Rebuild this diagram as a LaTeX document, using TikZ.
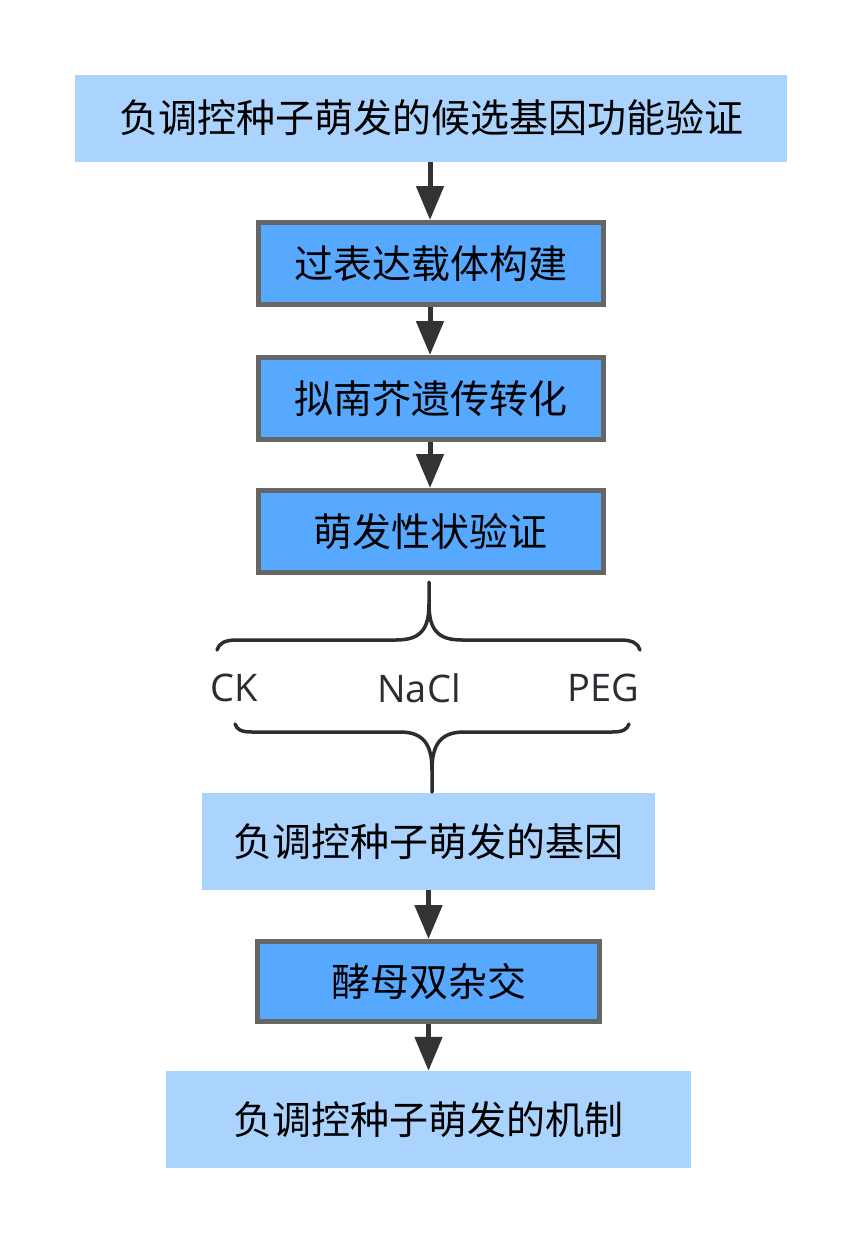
\documentclass[tikz,border=0pt]{standalone}
\usepackage{fontspec}
\setmainfont{Noto Sans CJK SC}
\newfontfamily\latinfont{Open Sans}
\usetikzlibrary{arrows.meta}
\definecolor{lightbox}{HTML}{AAD4FD}
\definecolor{darkbox}{HTML}{57A9FF}
\definecolor{boxborder}{HTML}{666666}
\definecolor{arrowcol}{HTML}{333333}
\definecolor{bracecol}{HTML}{2A2E33}
\tikzset{
  lightnode/.style={fill=lightbox, draw=none, inner sep=0pt, font=\fontsize{39}{42}\selectfont, text=black},
  darknode/.style={fill=darkbox, draw=boxborder, line width=5pt, inner sep=0pt, minimum width=345pt, minimum height=82pt, font=\fontsize{39}{42}\selectfont, text=black},
  flow/.style={draw=arrowcol, line width=5pt, -{Triangle[width=27pt,length=34pt]}},
  bracestyle/.style={draw=bracecol, line width=3.5pt, line cap=round, line join=round},
  lbl/.style={font=\latinfont\fontsize{38}{40}\selectfont, text=bracecol, inner sep=0pt}
}
\begin{document}
\begin{tikzpicture}[x=1pt,y=-1pt]
\useasboundingbox (0,0) rectangle (863,1245);
\fill[white] (0,0) rectangle (863,1245);

\node[lightnode, minimum width=712pt, minimum height=87pt] (n1) at (431,118) {负调控种子萌发的候选基因功能验证};
\node[darknode] (n2) at (430.5,263.5) {过表达载体构建};
\node[darknode] (n3) at (430.5,398.5) {拟南芥遗传转化};
\node[darknode] (n4) at (430.5,531.5) {萌发性状验证};
\node[lightnode, minimum width=453pt, minimum height=97pt] (n5) at (428.5,841.5) {负调控种子萌发的基因};
\node[darknode, minimum width=342pt, minimum height=80pt] (n6) at (428.5,981.5) {酵母双杂交};
\node[lightnode, minimum width=525pt, minimum height=97pt] (n7) at (428.5,1119.5) {负调控种子萌发的机制};

\draw[flow] (n1.south -| 430,0) -- (n2.north -| 430,0);
\draw[flow] (n2.south -| 430,0) -- (n3.north -| 430,0);
\draw[flow] (n3.south -| 430,0) -- (n4.north -| 430,0);
\draw[flow] (n5.south -| 428.5,0) -- (n6.north -| 428.5,0);
\draw[flow] (n6.south -| 428.5,0) -- (n7.north -| 428.5,0);

% labels
\node[lbl] (ck) at (234,688) {CK};
\node[lbl] (nacl) at (419,688) {NaCl};
\node[lbl] (peg) at (603,688) {PEG};

% upper brace (tip up)
\coordinate (ut) at (429,582);
\draw[bracestyle] (ut) -- (429,604)
  .. controls (429,630) and (438,640) .. (462,640) -- (620,640)
  .. controls (632,640) and (638,643) .. (640,650);
\draw[bracestyle] (429,604)
  .. controls (429,630) and (420,640) .. (396,640) -- (237,640)
  .. controls (225,640) and (219,643) .. (217,650);

% lower brace (tip down)
\coordinate (lt) at (432,792);
\draw[bracestyle] (lt) -- (432,770)
  .. controls (432,744) and (423,732) .. (400,732) -- (252,732)
  .. controls (242,732) and (237,730) .. (235,724);
\draw[bracestyle] (432,770)
  .. controls (432,744) and (441,732) .. (464,732) -- (612,732)
  .. controls (622,732) and (627,730) .. (629,724);
\end{tikzpicture}
\end{document}
